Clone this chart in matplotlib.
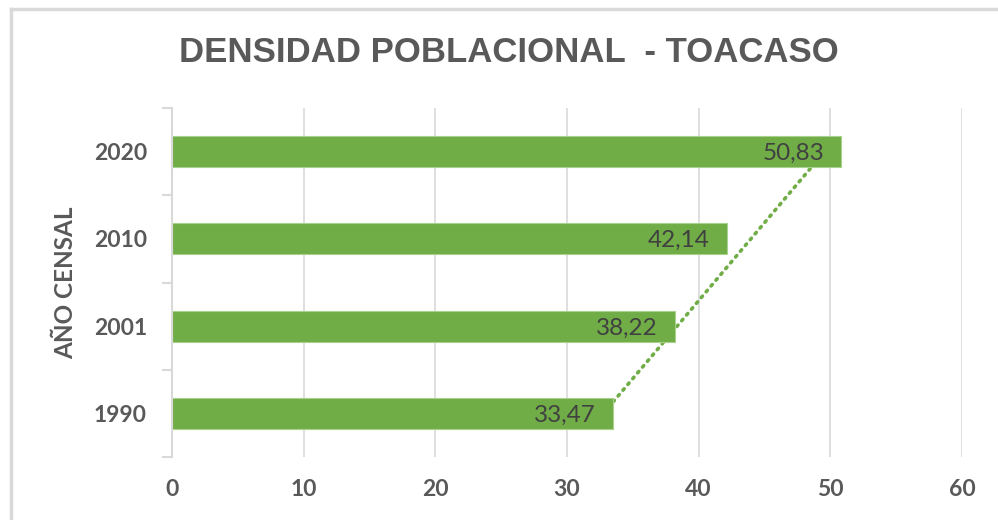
import numpy as np
import matplotlib.pyplot as plt
from matplotlib.lines import Line2D

years = ['1990', '2001', '2010', '2020']
densidad = [33.47, 38.22, 42.14, 50.83]
labels = ['33,47', '38,22', '42,14', '50,83']
xticks = [0, 10, 20, 30, 40, 50, 60]

green = '#70AD47'
gray_txt = '#595959'
grid_c = '#D9D9D9'

fig = plt.figure(figsize=(9.98, 5.2), dpi=100)
ax = fig.add_axes([172 / 998, 63 / 520, 790 / 998, 349 / 520])

pos = np.arange(len(years))

# linear trendline (drawn behind the bars)
coef = np.polyfit(pos + 1, densidad, 1)
trend = np.polyval(coef, pos + 1)
ax.plot(trend, pos, color=green, linestyle=(0, (0.5, 1.6)), linewidth=2.6,
        dash_capstyle='round', zorder=1)

ax.barh(pos, densidad, height=0.355, color=green, edgecolor='#A9D18E',
        linewidth=0.8, zorder=2)

for p, v, t in zip(pos, densidad, labels):
    ax.text(v - 1.3, p - 0.02, t, ha='right', va='center', fontsize=17.5,
            family=['Lato', 'DejaVu Sans'], color='#404040', zorder=3)

ax.set_xlim(0, 60)
ax.set_ylim(-0.5, 3.5)
ax.set_xticks(xticks)
ax.set_xticklabels([str(x) for x in xticks])
ax.set_yticks(pos)
ax.set_yticklabels(years)
ax.set_yticks([-0.5, 0.5, 1.5, 2.5, 3.5], minor=True)

ax.grid(axis='x', color=grid_c, linewidth=1.2, zorder=0)
ax.set_axisbelow(True)
for s in ['top', 'right', 'bottom']:
    ax.spines[s].set_visible(False)
ax.spines['left'].set_color(grid_c)
ax.spines['left'].set_linewidth(1.5)

ax.tick_params(axis='x', length=0, pad=16)
ax.tick_params(axis='y', which='major', length=0, pad=18)
ax.tick_params(axis='y', which='minor', length=7, width=1.5, color=grid_c)
for lab in ax.get_xticklabels() + ax.get_yticklabels():
    lab.set_family(['Lato', 'DejaVu Sans'])
    lab.set_fontweight('bold')
    lab.set_fontsize(16.5)
    lab.set_color(gray_txt)

fig.text(66 / 998, 1 - 283 / 520, 'AÑO CENSAL', rotation=90, ha='center',
         va='center', fontsize=17.5, fontweight='bold', color=gray_txt,
         family=['Lato', 'DejaVu Sans'])

fig.text(509 / 998, 1 - 53 / 520, 'DENSIDAD POBLACIONAL  - TOACASO',
         ha='center', va='center', fontsize=25, fontweight='bold',
         color=gray_txt, family=['Liberation Sans Narrow', 'Liberation Sans'])

# chart frame (only top and left edges visible in the crop)
fig.add_artist(Line2D([11 / 998, 11 / 998], [0, 1 - 9 / 520],
                      transform=fig.transFigure, color=grid_c, linewidth=2.5))
fig.add_artist(Line2D([11 / 998, 1], [1 - 9 / 520, 1 - 9 / 520],
                      transform=fig.transFigure, color=grid_c, linewidth=2.5))

fig.savefig('out.png', dpi=100)
